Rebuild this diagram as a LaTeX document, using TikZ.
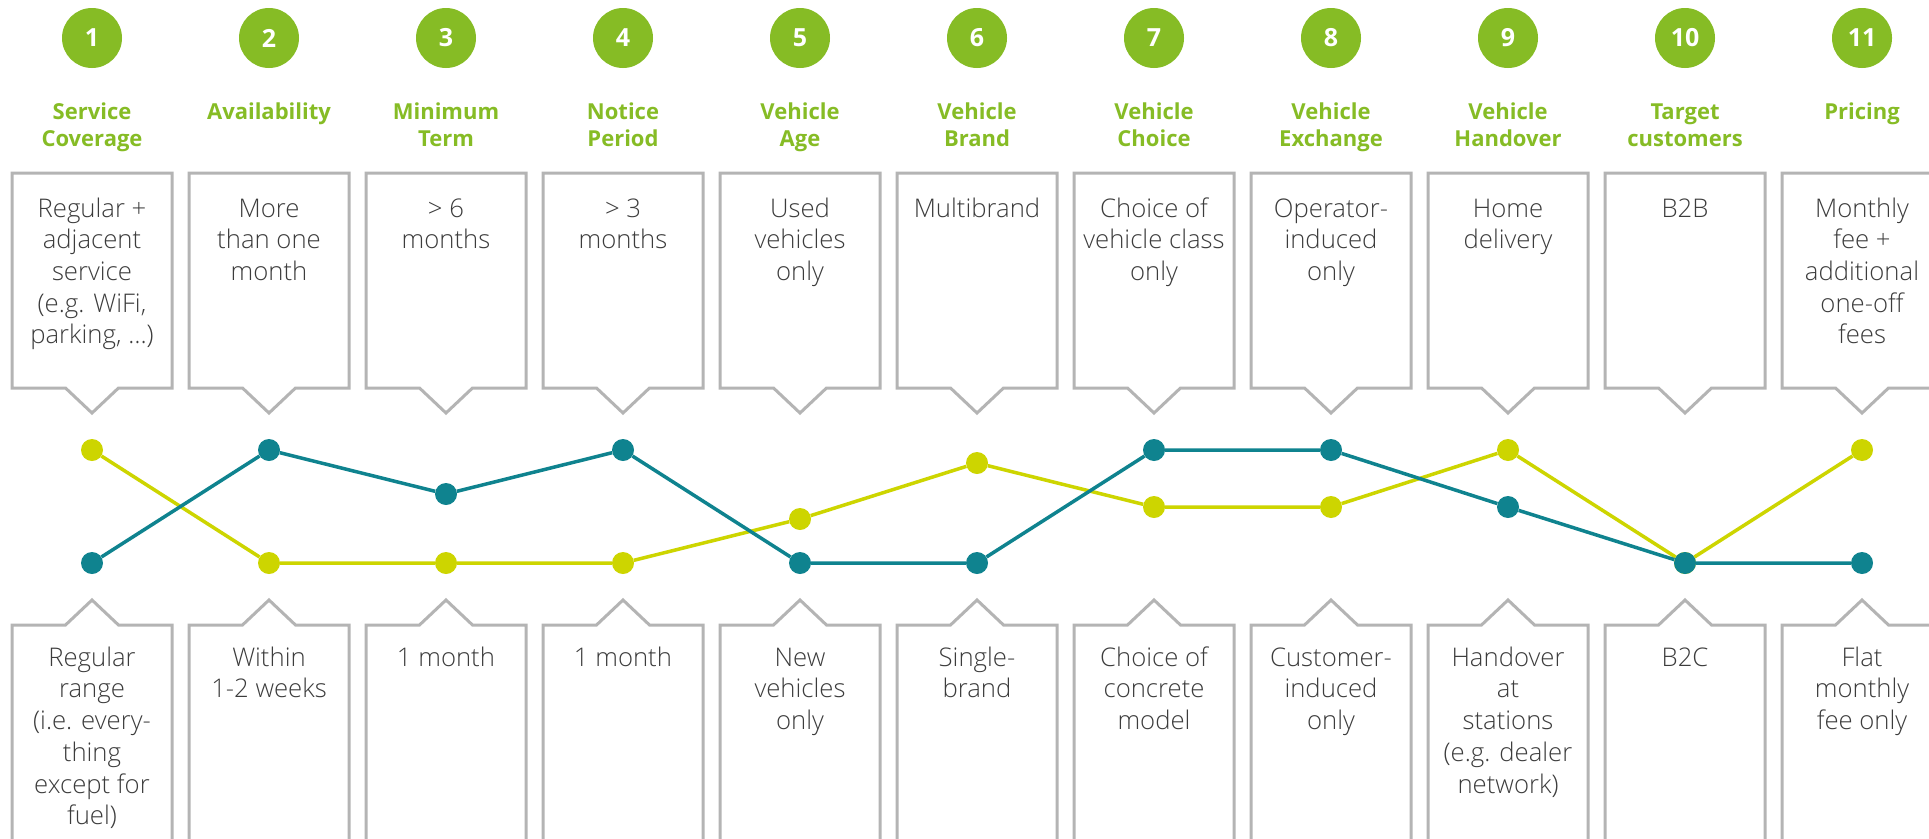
\documentclass[tikz,border=0pt]{standalone}
\usepackage{fontspec}
\setmainfont{Open Sans}
\newfontfamily\lightfont{Open Sans Light}
\definecolor{dgreen}{HTML}{86BC25}
\definecolor{dteal}{HTML}{0F838F}
\definecolor{dyel}{HTML}{CDD500}
\definecolor{boxgray}{HTML}{B4B4B4}
\definecolor{txtgray}{HTML}{3C3C3C}
\tikzset{
 numcirc/.style={circle, fill=dgreen, minimum size=60pt, inner sep=0pt, text=white, font=\fontsize{25}{30}\selectfont\bfseries},
 hdr/.style={anchor=north, align=center, inner sep=0pt, text=dgreen, font=\fontsize{22}{27}\selectfont\bfseries},
 body/.style={anchor=north, align=center, inner sep=0pt, text=txtgray, font=\lightfont\fontsize{25.7}{31.7}\selectfont},
 boxline/.style={draw=boxgray, line width=3pt},
 ydot/.style={circle, fill=dyel, minimum size=22pt, inner sep=0pt},
 tdot/.style={circle, fill=dteal, minimum size=22pt, inner sep=0pt},
 yline/.style={draw=dyel, line width=3.5pt},
 tline/.style={draw=dteal, line width=3.5pt},
}
\newcommand{\mycol}[4]{%
 \pgfmathsetmacro{\cx}{92+177*(#1-1)}%
 \node[numcirc] (n#1) at (\cx,38) {#1};
 \node[hdr] (h#1) at (\cx,100.1) {\strut #2};
 \draw[boxline] (\cx-80,173) -- (\cx+80,173) -- (\cx+80,388) -- (\cx+26.5,388) -- (\cx,413) -- (\cx-26.5,388) -- (\cx-80,388) -- cycle;
 \node[body] (a#1) at (\cx,194.8) {\strut #3};
 \draw[boxline] (\cx-80,845) -- (\cx-80,625) -- (\cx-26.5,625) -- (\cx,600) -- (\cx+26.5,625) -- (\cx+80,625) -- (\cx+80,845);
 \node[body] (b#1) at (\cx,643.8) {\strut #4};
}
\begin{document}
\begin{tikzpicture}[x=1pt,y=-1pt]
\useasboundingbox[fill=white] (0,0) rectangle (1929,838);
\mycol{1}{Service\\Coverage}{Regular +\\adjacent\\service\\(e.g. WiFi,\\parking, …)}{Regular\\range\\(i.e. every-\\thing\\except for\\fuel)}
\mycol{2}{Availability}{More\\than one\\month}{Within\\1-2 weeks}
\mycol{3}{Minimum\\Term}{> 6\\months}{1 month}
\mycol{4}{Notice\\Period}{> 3\\months}{1 month}
\mycol{5}{Vehicle\\Age}{Used\\vehicles\\only}{New\\vehicles\\only}
\mycol{6}{Vehicle\\Brand}{Multibrand}{Single-\\brand}
\mycol{7}{Vehicle\\Choice}{Choice of\\vehicle class\\only}{Choice of\\concrete\\model}
\mycol{8}{Vehicle\\Exchange}{Operator-\\induced\\only}{Customer-\\induced\\only}
\mycol{9}{Vehicle\\Handover}{Home\\delivery}{Handover\\at\\stations\\(e.g. dealer\\network)}
\mycol{10}{Target\\customers}{B2B}{B2C}
\mycol{11}{Pricing}{Monthly\\fee +\\additional\\one-off\\fees}{Flat\\monthly\\fee only}
% yellow profile
\foreach \i/\yv in {1/450,2/563,3/563,4/563,5/519,6/463,7/507,8/507,9/450,10/563,11/450}
  \node[ydot] (y\i) at ({92+177*(\i-1)},\yv) {};
\draw[yline] (y1) -- (y2) -- (y3) -- (y4) -- (y5) -- (y6) -- (y7) -- (y8) -- (y9) -- (y10) -- (y11);
% teal profile
\foreach \i/\yv in {1/563,2/450,3/494,4/450,5/563,6/563,7/450,8/450,9/507,10/563,11/563}
  \node[tdot] (c\i) at ({92+177*(\i-1)},\yv) {};
\draw[tline] (c1) -- (c2) -- (c3) -- (c4) -- (c5) -- (c6) -- (c7) -- (c8) -- (c9) -- (c10) -- (c11);
\end{tikzpicture}
\end{document}
